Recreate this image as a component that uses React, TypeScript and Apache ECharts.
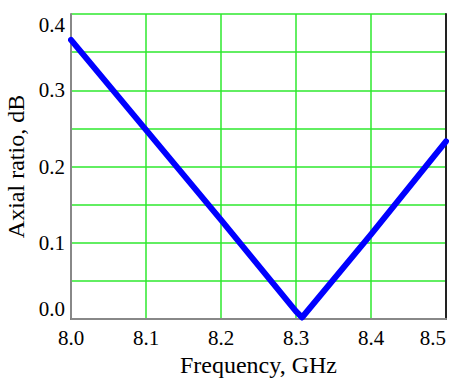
import React, { useEffect, useRef } from "react";
import * as echarts from "echarts";

const freqGHz = [8.0, 8.1, 8.2, 8.3, 8.308, 8.4, 8.5];
const axialRatioDb = [0.366, 0.248, 0.13, 0.01, 0.002, 0.111, 0.233];
const xTicks = [8.0, 8.1, 8.2, 8.3, 8.4, 8.5];
const yTicks = [0.0, 0.1, 0.2, 0.3, 0.4];

export default function App() {
  const ref = useRef<HTMLDivElement>(null);
  useEffect(() => {
    if (!ref.current) return;
    const chart = echarts.init(ref.current, null, { renderer: "svg" });
    const font = "'Liberation Serif', 'Times New Roman', serif";
    const data = freqGHz.map((f, i) => [f, axialRatioDb[i]]);
    const grid = {
      left: 71,
      right: 4,
      top: 14,
      bottom: 60,
      containLabel: false,
      outerBoundsMode: "none",
    };
    chart.setOption({
      animation: false,
      backgroundColor: "#ffffff",
      grid,
      xAxis: [
        {
          type: "value",
          min: xTicks[0],
          max: xTicks[xTicks.length - 1],
          interval: 0.1,
          name: "Frequency, GHz",
          nameLocation: "middle",
          nameGap: 29,
          nameTextStyle: { fontFamily: font, fontSize: 24, color: "#000" },
          axisLine: { show: true, lineStyle: { color: "#555555", width: 2 } },
          axisTick: { show: false },
          axisLabel: {
            fontFamily: font,
            fontSize: 21,
            color: "#000",
            margin: 8,
            alignMaxLabel: "right",
            formatter: (v: number) => v.toFixed(1),
          },
          splitLine: { show: true, lineStyle: { color: "#2ee82e", width: 1.5 } },
        },
        {
          type: "value",
          position: "top",
          min: xTicks[0],
          max: xTicks[xTicks.length - 1],
          axisLine: { show: true, lineStyle: { color: "#888888", width: 2 } },
          axisTick: { show: false },
          axisLabel: { show: false },
          splitLine: { show: false },
        },
      ],
      yAxis: [
        {
          type: "value",
          min: yTicks[0],
          max: yTicks[yTicks.length - 1],
          interval: 0.05,
          name: "Axial ratio, dB",
          nameLocation: "middle",
          nameGap: 31,
          nameTextStyle: { fontFamily: font, fontSize: 24, color: "#000" },
          axisLine: { show: true, lineStyle: { color: "#888888", width: 2 } },
          axisTick: { show: false },
          axisLabel: {
            fontFamily: font,
            fontSize: 21,
            color: "#000",
            margin: 6,
            verticalAlignMaxLabel: "top",
            verticalAlignMinLabel: "bottom",
            formatter: (v: number) => {
              const t = yTicks.find((y) => Math.abs(y - v) < 1e-6);
              return t === undefined ? "" : t.toFixed(1);
            },
          },
          splitLine: { show: true, lineStyle: { color: "#2ee82e", width: 1.5 } },
        },
        {
          type: "value",
          position: "right",
          min: yTicks[0],
          max: yTicks[yTicks.length - 1],
          axisLine: { show: true, lineStyle: { color: "#222222", width: 2 } },
          axisTick: { show: false },
          axisLabel: { show: false },
          splitLine: { show: false },
        },
      ],
      series: [
        {
          type: "line",
          data,
          showSymbol: false,
          symbol: "none",
          lineStyle: { color: "#0000ff", width: 6, join: "round", cap: "round" },
          z: 5,
        },
      ],
    });
    return () => chart.dispose();
  }, []);
  return (
    <div
      ref={ref}
      style={{ position: "fixed", left: 0, top: 0, width: 450, height: 379 }}
    />
  );
}
